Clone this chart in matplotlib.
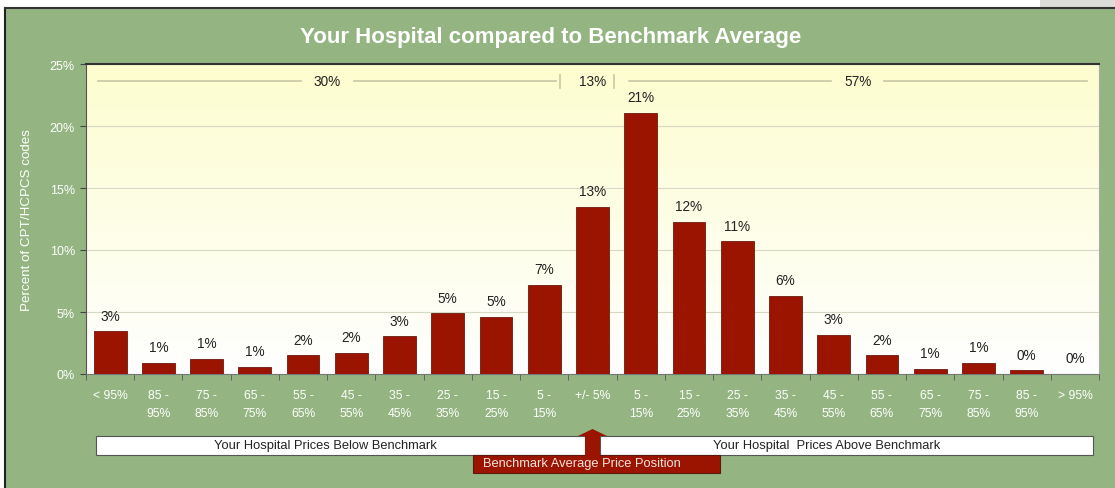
import numpy as np
import matplotlib.pyplot as plt
from matplotlib.patches import Rectangle, Polygon
from matplotlib.colors import LinearSegmentedColormap

plt.rcParams["font.family"] = ["Liberation Sans", "DejaVu Sans"]

# price position buckets vs benchmark
categories = ["< 95%", "85 -\n95%", "75 -\n85%", "65 -\n75%", "55 -\n65%", "45 -\n55%",
              "35 -\n45%", "25 -\n35%", "15 -\n25%", "5 -\n15%", "+/- 5%",
              "5 -\n15%", "15 -\n25%", "25 -\n35%", "35 -\n45%", "45 -\n55%",
              "55 -\n65%", "65 -\n75%", "75 -\n85%", "85 -\n95%", "> 95%"]
pct_codes = [3.45, 0.9, 1.2, 0.55, 1.5, 1.7, 3.05, 4.9, 4.6, 7.2, 13.5,
             21.05, 12.25, 10.7, 6.3, 3.15, 1.5, 0.4, 0.9, 0.3, 0.0]
bar_labels = ["3%", "1%", "1%", "1%", "2%", "2%", "3%", "5%", "5%", "7%", "13%",
              "21%", "12%", "11%", "6%", "3%", "2%", "1%", "1%", "0%", "0%"]
# group totals: (first bucket, last bucket, label)
groups = [(0, 9, "30%"), (10, 10, "13%"), (11, 20, "57%")]

green = "#94b582"
barred = "#9b1400"

fig = plt.figure(figsize=(11.15, 4.89), dpi=100)
fig.patch.set_facecolor("white")
# green panel with dark border
fig.patches.append(Rectangle((6 / 1115, 0), 1, 1 - 9 / 489, transform=fig.transFigure,
                             facecolor=green, edgecolor="none", zorder=-10))
fig.patches.append(Rectangle((1040 / 1115, 1 - 9 / 489), 1, 9 / 489, transform=fig.transFigure,
                             facecolor="#dcdcd8", edgecolor="none", zorder=-10))
fig.lines.append(plt.Line2D([5 / 1115, 5 / 1115], [0, 1 - 9 / 489], transform=fig.transFigure,
                            color="#222222", lw=1.5, zorder=-5))
fig.lines.append(plt.Line2D([5 / 1115, 1], [1 - 9 / 489, 1 - 9 / 489], transform=fig.transFigure,
                            color="#333333", lw=1.5, zorder=-5))

ax = fig.add_axes([86 / 1115, 1 - 375 / 489, 1013 / 1115, 310 / 489])
ax.set_facecolor("none")
ax.set_xlim(-0.5, len(categories) - 0.5)
ax.set_ylim(0, 25)

# yellow-to-white gradient behind bars
grad = np.linspace(0, 1, 256).reshape(-1, 1)
cmap = LinearSegmentedColormap.from_list("bg", ["#ffffff", "#fdfdcf"])
ax.imshow(grad, extent=[0, 1, 0, 1], transform=ax.transAxes, cmap=cmap,
          aspect="auto", origin="lower", zorder=0)

ax.set_yticks([0, 5, 10, 15, 20, 25])
ax.set_yticklabels(["0%", "5%", "10%", "15%", "20%", "25%"], color="white", fontsize=9)
ax.yaxis.grid(True, color="#d6d9c4", lw=0.8)
ax.set_axisbelow(True)

x = np.arange(len(categories))
ax.bar(x, pct_codes, width=0.68, color=barred, edgecolor="#6e1a10", lw=0.6, zorder=3)
for xi, v, lab in zip(x, pct_codes, bar_labels):
    ax.text(xi, v + 0.7, lab, ha="center", va="bottom", fontsize=9.8, color="#222222", zorder=4)

ax.set_xticks(x)
ax.set_xticklabels(categories, color="white", fontsize=8.7, linespacing=1.6, va="top")
ax.set_xticks(np.arange(-0.5, len(categories)), minor=True)
ax.tick_params(axis="x", which="major", length=0, pad=11)
ax.tick_params(axis="x", which="minor", length=4, color="#555555", direction="out")
ax.tick_params(axis="y", length=4, color="#444444", pad=4)

for side, c in [("top", "#333333"), ("left", "#555555"), ("bottom", "#777777"), ("right", "#aaaaaa")]:
    ax.spines[side].set_color(c)
ax.spines["top"].set_linewidth(1.5)

ax.set_ylabel("Percent of CPT/HCPCS codes", color="white", fontsize=9.6, labelpad=12)

# group total brackets along the top
yb = 23.6
line_kw = dict(color="#c6c9a6", lw=1.2, zorder=2)
for first, last, lab in groups:
    mid = (first + last) / 2
    ax.text(mid, yb, lab, ha="center", va="center", fontsize=9.8, color="#222222")
    if first == last:
        continue
    left, right = first - 0.25, last + 0.25
    ax.plot([left, mid - 0.55], [yb, yb], **line_kw)
    ax.plot([mid + 0.55, right], [yb, yb], **line_kw)
ax.plot([9.33, 9.33], [yb - 0.55, yb + 0.55], **line_kw)
ax.plot([10.45, 10.45], [yb - 0.55, yb + 0.55], **line_kw)

fig.text(551 / 1115, 1 - 37 / 489, "Your Hospital compared to Benchmark Average",
         ha="center", va="center", color="white", fontsize=16, fontweight="bold")

# bottom explanation boxes
def fbox(x0, y0, x1, y1, fc, ec):
    fig.patches.append(Rectangle((x0 / 1115, 1 - y1 / 489), (x1 - x0) / 1115, (y1 - y0) / 489,
                                 transform=fig.transFigure, facecolor=fc, edgecolor=ec, lw=0.8))

fbox(96, 437, 585, 456, "white", "#555555")
fbox(600, 437, 1093, 456, "white", "#555555")
fbox(473, 456, 720, 474, barred, "#5a1a10")
arrow = [(585, 474), (585, 437), (578, 437), (592.5, 430), (607, 437), (600, 437), (600, 474)]
fig.patches.append(Polygon([(px / 1115, 1 - py / 489) for px, py in arrow], closed=True,
                           transform=fig.transFigure, facecolor=barred, edgecolor="none"))
fig.text(325 / 1115, 1 - 446.5 / 489, "Your Hospital Prices Below Benchmark",
         ha="center", va="center", fontsize=9.3, color="#222222")
fig.text(827 / 1115, 1 - 446.5 / 489, "Your Hospital  Prices Above Benchmark",
         ha="center", va="center", fontsize=9.3, color="#222222")
fig.text(582 / 1115, 1 - 464.5 / 489, "Benchmark Average Price Position",
         ha="center", va="center", fontsize=9.3, color="#f4e4e0")

fig.savefig("out.png", dpi=100, facecolor=fig.get_facecolor())
